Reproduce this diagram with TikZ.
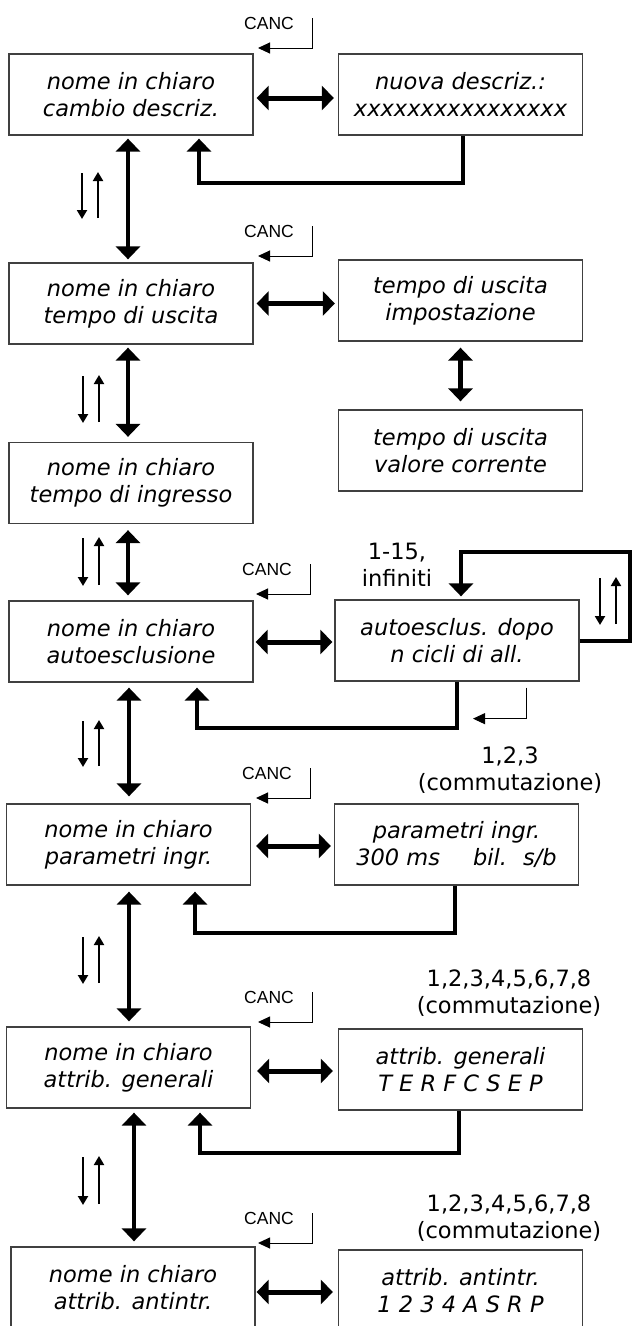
\documentclass[tikz,border=0pt]{standalone}
\usepackage{fontspec}
\setmainfont{DejaVu Sans}
\newfontfamily\cancfont{Liberation Sans}
\usetikzlibrary{arrows.meta,calc}
\begin{document}
\begin{tikzpicture}[x=1pt,y=-1pt,
 box/.style={draw=black!75, line width=1.3pt, minimum width=244pt, minimum height=81pt, inner sep=0pt, align=center, font=\itshape\fontsize{22.5}{27}\selectfont},
 dbl/.style={line width=4.5pt, {Triangle[width=24pt,length=13pt]}-{Triangle[width=24pt,length=13pt]}},
 hdbl/.style={line width=5pt, {Triangle[width=24pt,length=12pt]}-{Triangle[width=24pt,length=12pt]}},
 fb/.style={line width=4pt, line join=miter, -{Triangle[width=24pt,length=13pt]}},
 thinarr/.style={line width=2pt, -{Triangle[width=10pt,length=9pt]}},
 canc/.style={line width=1pt, -{Triangle[width=11pt,length=12pt]}},
 lbl/.style={font=\fontsize{22.5}{27}\selectfont, align=center, inner sep=0pt},
 cancl/.style={font=\cancfont\fontsize{17.5}{20}\selectfont, inner sep=0pt}
]
\useasboundingbox[fill=white] (0,0) rectangle (632,1326);

% boxes
\node[box] (b1L) at (131,94.5) {nome in chiaro\\cambio descriz.};
\node[box] (b1R) at (460.5,94.5) {nuova descriz.:\\xxxxxxxxxxxxxxxx};
\node[box] (b2L) at (131,303.5) {nome in chiaro\\tempo di uscita};
\node[box] (b2R) at (460.5,300.5) {tempo di uscita\\impostazione};
\node[box] (b3R) at (460.5,450.5) {tempo di uscita\\valore corrente};
\node[box] (b3L) at (131,483) {nome in chiaro\\tempo di ingresso};
\node[box] (b4L) at (131,641.5) {nome in chiaro\\autoesclusione};
\node[box] (b4R) at (457,640.5) {autoesclus. dopo\\n cicli di all.};
\node[box] (b5L) at (128.5,844.5) {nome in chiaro\\parametri ingr.};
\node[box] (b5R) at (456.5,844.5) {parametri ingr.\\300 ms\hspace{33pt}bil.\hspace{16pt}s/b};
\node[box] (b6L) at (128.5,1067.5) {nome in chiaro\\attrib. generali};
\node[box] (b6R) at (460.5,1069.5) {attrib. generali\\T E R F C S E P};
\node[box] (b7L) at (133,1287.5) {nome in chiaro\\attrib. antintr.};
\node[box] (b7R) at (460.5,1290.5) {attrib. antintr.\\1 2 3 4 A S R P};

% labels
\node[lbl] (l1) at (397,565) {1-15,\\infiniti};
\node[lbl] (l2) at (510,770) {1,2,3\\(commutazione)};
\node[lbl] (l3) at (509,993.5) {1,2,3,4,5,6,7,8\\(commutazione)};
\node[lbl] (l4) at (509,1218.5) {1,2,3,4,5,6,7,8\\(commutazione)};

% CANC labels
\node[cancl] (c1) at (269,23) {CANC};
\node[cancl] (c2) at (269,231) {CANC};
\node[cancl] (c4) at (267,569) {CANC};
\node[cancl] (c5) at (267,773) {CANC};
\node[cancl] (c6) at (269,997) {CANC};
\node[cancl] (c7) at (269,1218) {CANC};
\foreach \c in {c1,c2,c4,c5,c6,c7}{
  \draw[canc] ($(\c)+(43,-5)$) |- ($(\c)+(-11,25)$);
}
\draw[canc] ($(b4R.south)+(69,6)$) |- ($(b4R.south)+(16,37)$);

% main vertical double arrows
\draw[dbl] ($(b1L.south)+(-3,3)$) -- ($(b2L.north)+(-3,-3)$);
\draw[dbl] ($(b2L.south)+(-3,3)$) -- ($(b3L.north)+(-3,-5)$);
\draw[dbl] ($(b3L.south)+(-3,6)$) -- ($(b4L.north)+(-3,-5)$);
\draw[dbl] ($(b4L.south)+(-2,5)$) -- ($(b5L.north)+(0.5,-7)$);
\draw[dbl] ($(b5L.south)+(0.5,6)$) -- ($(b6L.north)+(0.5,-5)$);
\draw[dbl] ($(b6L.south)+(5.5,4)$) -- ($(b7L.north)+(1,-5)$);
\draw[dbl] ($(b2R.south)+(0,6)$) -- ($(b3R.north)+(0,-8)$);

% horizontal double arrows
\draw[hdbl] ($(b1L.east)+(3,3.5)$) -- ($(b1R.west)+(-4,3.5)$);
\draw[hdbl] ($(b2L.east)+(3,0)$) -- ($(b2L.east -| b2R.west)+(-3,0)$);
\draw[hdbl] ($(b4L.east)+(2,0.5)$) -- ($(b4L.east -| b4R.west)+(-2,0.5)$);
\draw[hdbl] ($(b5L.east)+(5,1.5)$) -- ($(b5L.east -| b5R.west)+(-3,1.5)$);
\draw[hdbl] ($(b6L.east)+(6,3.5)$) -- ($(b6R.west)+(-5,1.5)$);
\draw[hdbl] ($(b7L.east)+(1,4.5)$) -- ($(b7R.west)+(-5,1.5)$);

% feedback returns
\draw[fb] ($(b1R.south)+(2.5,0)$) |- ($(b1L.south)+(68,47)$) -- ($(b1L.south)+(68,3)$);
\draw[fb] (b4R.south) |- ($(b4L.south)+(66,45)$) -- ($(b4L.south)+(66,5)$);
\draw[fb] ($(b5R.south)+(-1.5,0)$) |- ($(b5L.south)+(66.5,47)$) -- ($(b5L.south)+(66.5,6)$);
\draw[fb] ($(b6R.south)+(-1.5,0)$) |- ($(b6L.south)+(71.5,44)$) -- ($(b6L.south)+(71.5,4)$);

% loop on autoesclusione
\coordinate (lp) at (630,552);
\draw[fb] (b4R.east) -| (lp) -| ($(b4R.north)+(4,-3)$);

% small up/down arrow pairs
\foreach \x/\ya/\yb in {82/173/219, 83/376/423, 83/538/586, 83/721/767, 83/937/984, 83/1157/1205, 600/578/625}{
  \draw[thinarr] (\x,\ya) -- (\x,\yb);
  \draw[thinarr] (\x+16,\yb-1) -- (\x+16,\ya-1);
}
\end{tikzpicture}
\end{document}
